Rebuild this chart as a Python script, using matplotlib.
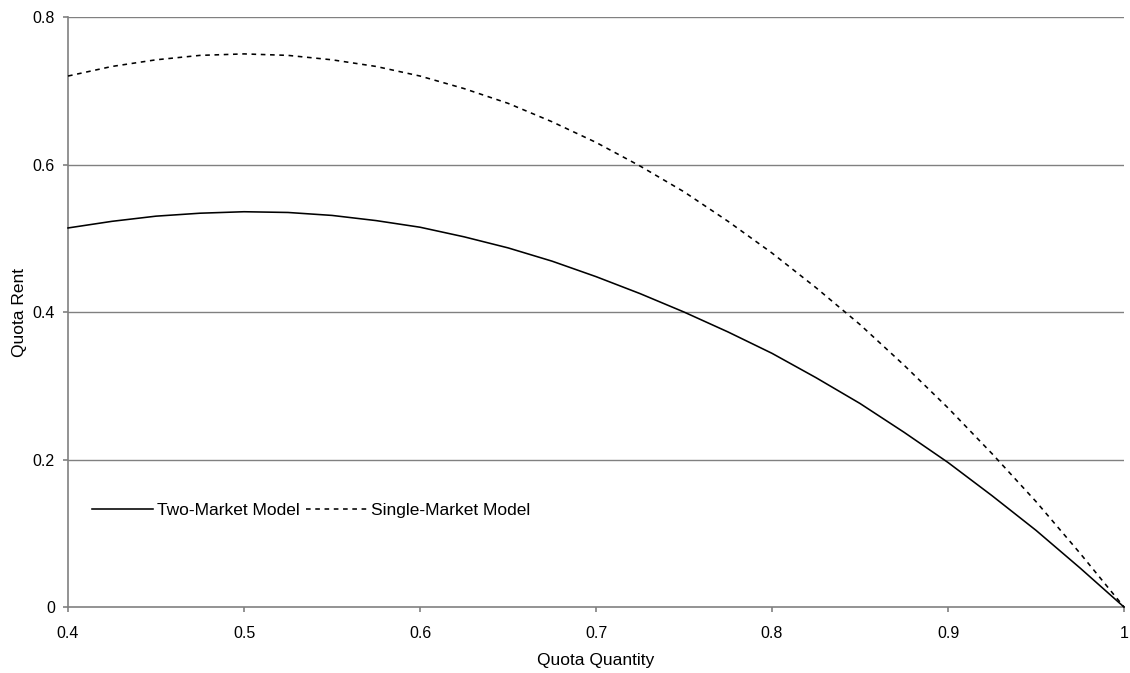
import matplotlib
matplotlib.use("Agg")
import matplotlib.pyplot as plt

plt.rcParams['font.family'] = ['Liberation Sans', 'DejaVu Sans']

# quota quantity and rent
quantity = [0.400, 0.425, 0.450, 0.475, 0.500, 0.525, 0.550, 0.575, 0.600,
            0.625, 0.650, 0.675, 0.700, 0.725, 0.750, 0.775, 0.800, 0.825,
            0.850, 0.875, 0.900, 0.925, 0.950, 0.975, 1.000]
two_market = [0.514, 0.523, 0.530, 0.534, 0.536, 0.535, 0.531, 0.524, 0.515,
              0.502, 0.487, 0.469, 0.448, 0.425, 0.400, 0.373, 0.344, 0.311,
              0.276, 0.237, 0.196, 0.151, 0.104, 0.053, 0.0]
single_market = [0.720, 0.733, 0.742, 0.748, 0.750, 0.748, 0.742, 0.733, 0.720,
                 0.703, 0.683, 0.658, 0.630, 0.598, 0.563, 0.523, 0.480, 0.433,
                 0.383, 0.328, 0.270, 0.208, 0.143, 0.073, 0.0]

x_ticks = [0.4, 0.5, 0.6, 0.7, 0.8, 0.9, 1.0]
x_labels = ['0.4', '0.5', '0.6', '0.7', '0.8', '0.9', '1']
y_ticks = [0, 0.2, 0.4, 0.6, 0.8]
y_labels = ['0', '0.2', '0.4', '0.6', '0.8']

fig = plt.figure(figsize=(11.3, 6.73), dpi=100)
ax = fig.add_axes([0.0602, 0.098, 0.9345, 0.8767])

grey = '#808080'
for v in y_ticks[1:]:
    ax.axhline(v, color=grey, lw=1.0, zorder=1)

ax.plot(quantity, two_market, color='black', lw=1.15, label='Two-Market Model',
        zorder=3, clip_on=False)
ax.plot(quantity, single_market, color='black', lw=1.15, dashes=(2.9, 2.9),
        label='Single-Market Model', zorder=3, clip_on=False)

ax.set_xlim(0.4, 1.0)
ax.set_ylim(0, 0.8)
ax.set_xticks(x_ticks)
ax.set_xticklabels(x_labels)
ax.set_yticks(y_ticks)
ax.set_yticklabels(y_labels)

for s in ['top', 'right']:
    ax.spines[s].set_visible(False)
for s in ['left', 'bottom']:
    ax.spines[s].set_color(grey)
    ax.spines[s].set_linewidth(1.2)
ax.tick_params(axis='both', direction='out', length=3.5, width=1.2, color=grey,
               labelsize=11.5, labelcolor='black')
ax.tick_params(axis='x', pad=10.5)
ax.tick_params(axis='y', pad=6)

ax.set_xlabel('Quota Quantity', fontsize=12.5, labelpad=8)
ax.set_ylabel('Quota Rent', fontsize=12.5, labelpad=4)

ax.legend(loc='center left', bbox_to_anchor=(0.0227, 0.1644), ncol=2, frameon=False,
          fontsize=12.5, handlelength=3.5, handletextpad=0.25, columnspacing=0.35,
          borderpad=0, borderaxespad=0)

fig.savefig('out.png', dpi=100)
